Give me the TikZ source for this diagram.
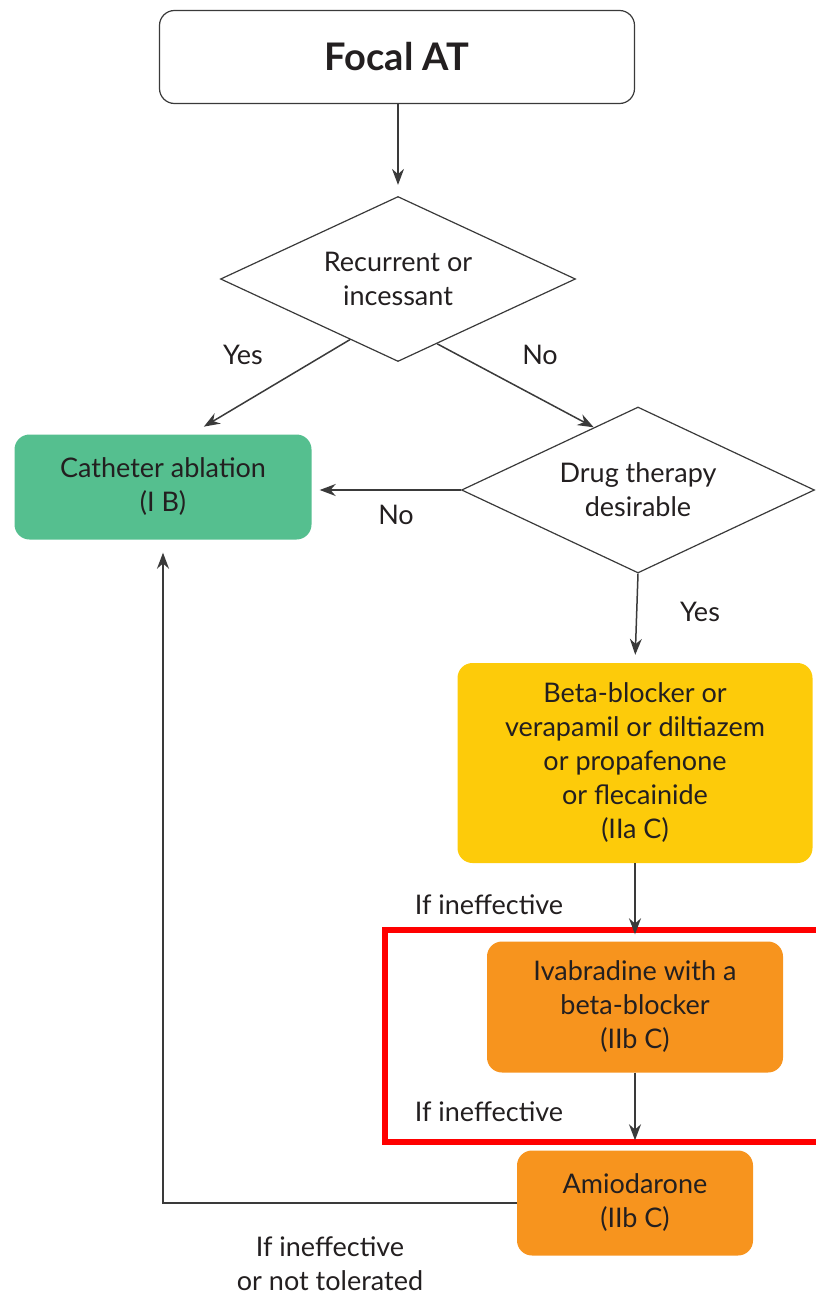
\documentclass[tikz,border=0pt]{standalone}
\usepackage{fontspec}
\setmainfont{Lato}
\usetikzlibrary{shapes.geometric,arrows.meta,calc}

\definecolor{txt}{HTML}{231F20}
\definecolor{edge}{HTML}{3A3A3A}
\definecolor{ablation}{HTML}{55BF8F}
\definecolor{firstline}{HTML}{FDCB0A}
\definecolor{secondline}{HTML}{F7941E}
\definecolor{highlight}{HTML}{FF0000}

\tikzset{
  base/.style={align=center, inner sep=0pt, text=txt, font=\fontsize{27}{34}\selectfont},
  box/.style={base, rectangle, rounded corners=15pt},
  decision/.style={base, diamond, aspect=2.15, draw=edge, line width=1.2pt, fill=white},
  link/.style={draw=edge, line width=1.5pt, -{Stealth[length=16pt,width=12pt]}},
  lbl/.style={base}
}

\begin{document}
\begin{tikzpicture}[x=1pt,y=-1pt]
  \useasboundingbox (0,0) rectangle (815,1298);

  % Start
  \node[box, draw=edge, line width=1.2pt, fill=white, minimum width=475pt, minimum height=93pt,
        font=\fontsize{38}{40}\selectfont\bfseries] (focal) at (397,57) {Focal AT};

  % Decisions
  \node[decision, minimum width=355pt, minimum height=165pt] (recur) at (398,279) {Recurrent or\\incessant};
  \node[decision, minimum width=353pt, minimum height=166pt] (drug) at (638,490) {Drug therapy\\desirable};

  % Therapy boxes
  \node[box, fill=ablation, minimum width=297pt, minimum height=105pt] (ablate) at (163,487) {Catheter ablation\\(I B)};
  \node[box, fill=firstline, minimum width=355pt, minimum height=200pt] (rate) at (635,763)
    {Beta-blocker or\\verapamil or diltiazem\\or propafenone\\or flecainide\\(IIa C)};
  \node[box, fill=secondline, minimum width=296pt, minimum height=131pt] (ivab) at (635,1007)
    {Ivabradine with a\\beta-blocker\\(IIb C)};
  \node[box, fill=secondline, minimum width=236pt, minimum height=105pt] (amio) at (635,1203)
    {Amiodarone\\(IIb C)};

  % Highlight frame
  \draw[highlight, line width=6pt] (385,930) rectangle (822,1142);

  % Connectors
  \draw[link, shorten >=11pt] (focal.south) -| (recur.north);
  \draw[link, shorten >=15pt] ($(recur.south)!0.27!(recur.west)$) -- ([xshift=28pt]ablate.north);
  \draw[link] ($(recur.south)!0.22!(recur.east)$) -- ($(drug.north)!0.25!(drug.west)$);
  \draw[link, shorten >=8pt] (drug.west) -- (drug.west -| ablate.east);
  \draw[link, shorten >=8pt] (drug.south) -- (rate.north);
  \draw[link, shorten >=7pt] (rate.south) -- (ivab.north);
  \draw[link, shorten >=10pt] (ivab.south) -- (amio.north);
  \draw[link, shorten >=13pt] (amio.west) -| (ablate.south);

  % Labels
  \node[lbl] (yes1) at (243,355) {Yes};
  \node[lbl] (no1) at (540,355) {No};
  \node[lbl] (no2) at (396,515) {No};
  \node[lbl] (yes2) at (700,612) {Yes};
  \node[lbl] (fail1) at (489,905) {If ineffective};
  \node[lbl] (fail2) at (489,1112) {If ineffective};
  \node[lbl] (fail3) at (330,1264) {If ineffective\\or not tolerated};
\end{tikzpicture}
\end{document}
